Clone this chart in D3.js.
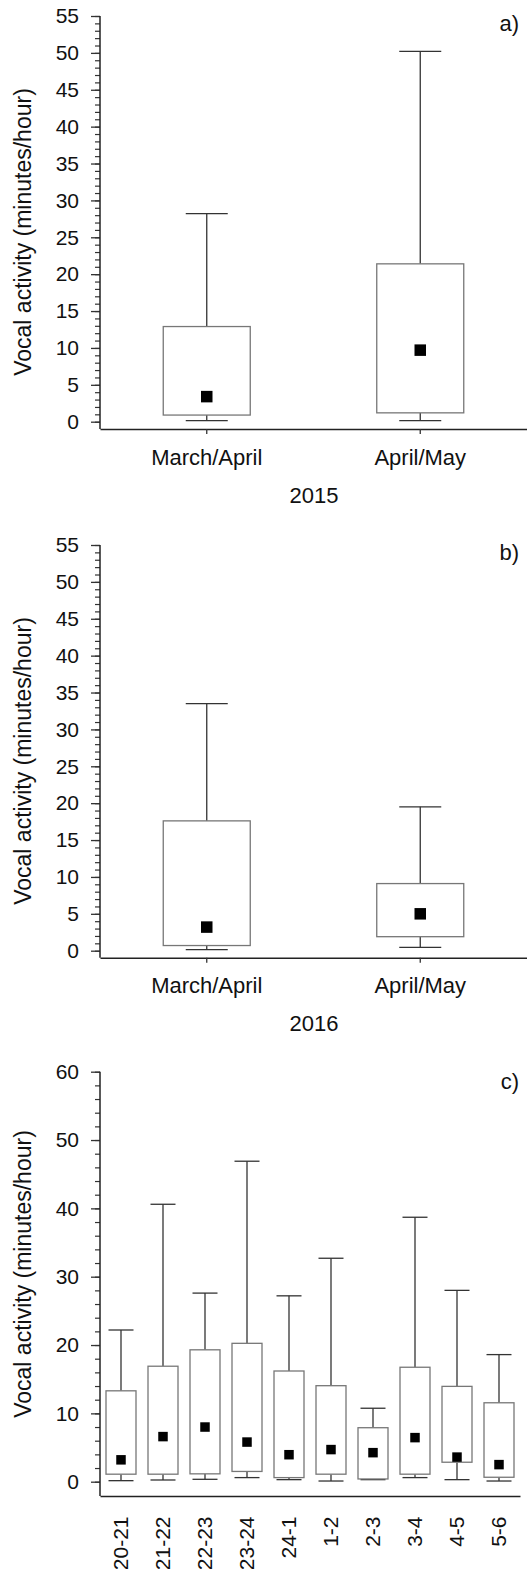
<!DOCTYPE html>
<html>
<head>
<meta charset="utf-8">
<script src="https://cdn.jsdelivr.net/npm/d3@7"></script>
<style>
  body { margin: 0; background: #fff; }
  svg { display: block; font-family: "Liberation Sans", Arial, sans-serif; }
  .axis text { font-size: 21px; fill: #111; }
  .label { font-size: 22px; fill: #111; }
  .ylabel { font-size: 23px; fill: #111; }
</style>
</head>
<body>
<svg id="fig" width="527" height="1569"></svg>
<script>
// seasons (panels a, b)
const periods = ["March/April", "April/May"];
const max2015 = [28.2, 50.2];
const q3_2015 = [12.9, 21.4];
const q1_2015 = [0.9, 1.2];
const min2015 = [0.15, 0.15];
const mean2015 = [3.4, 9.7];

const max2016 = [33.5, 19.5];
const q3_2016 = [17.6, 9.1];
const q1_2016 = [0.7, 1.9];
const min2016 = [0.15, 0.45];
const mean2016 = [3.2, 5.0];

// hours of the night (panel c)
const hours = ["20-21", "21-22", "22-23", "23-24", "24-1", "1-2", "2-3", "3-4", "4-5", "5-6"];
const maxHour = [22.2, 40.6, 27.6, 46.9, 27.2, 32.7, 10.75, 38.7, 28.0, 18.6];
const q3Hour = [13.3, 16.9, 19.3, 20.25, 16.2, 14.05, 7.9, 16.75, 13.95, 11.55];
const q1Hour = [1.1, 1.1, 1.15, 1.5, 0.6, 1.1, 0.4, 1.1, 2.85, 0.65];
const minHour = [0.15, 0.25, 0.35, 0.6, 0.3, 0.1, 0.3, 0.6, 0.3, 0.1];
const meanHour = [3.2, 6.6, 8.0, 5.8, 3.95, 4.7, 4.25, 6.45, 3.6, 2.5];

const ticks55 = [0, 5, 10, 15, 20, 25, 30, 35, 40, 45, 50, 55];
const ticks60 = [0, 10, 20, 30, 40, 50, 60];

const yLabel = "Vocal activity (minutes/hour)";

const svg = d3.select('#fig');

function drawPanel(p) {
  const g = svg.append('g');

  const y = d3.scaleLinear().domain([0, p.yMax]).range([p.zeroY, p.topY]);
  const x = d3.scaleBand().domain(p.cats).range([100, p.right]);
  const cx = (c) => x(c) + x.bandwidth() / 2;

  // minor ticks
  g.append('g')
    .attr('class', 'axis')
    .attr('transform', 'translate(100,0)')
    .call(d3.axisLeft(y).tickValues(d3.range(0, p.yMax + 0.01, p.minor)).tickSize(5).tickFormat(''))
    .call((s) => s.select('.domain').remove())
    .selectAll('line').attr('stroke', '#333').attr('stroke-width', 1.2);

  // major ticks
  g.append('g')
    .attr('class', 'axis')
    .attr('transform', 'translate(100,0)')
    .call(d3.axisLeft(y).tickValues(p.ticks).tickSize(9).tickPadding(12).tickFormat(d3.format('d')))
    .call((s) => s.select('.domain').remove())
    .selectAll('line').attr('stroke', '#333').attr('stroke-width', 1.3);

  // y axis line down to the x axis
  g.append('line')
    .attr('x1', 100).attr('x2', 100)
    .attr('y1', p.topY).attr('y2', p.axisY)
    .attr('stroke', '#222').attr('stroke-width', 1.5);

  // x axis
  const xa = g.append('g')
    .attr('class', 'axis')
    .attr('transform', `translate(0,${p.axisY})`)
    .call(d3.axisBottom(x).tickSize(p.xTicks ? 5 : 0).tickSizeOuter(0).tickPadding(15));
  xa.select('.domain').attr('stroke', '#222').attr('stroke-width', 1.5);
  xa.selectAll('line').attr('stroke', '#333').attr('stroke-width', 1.3);
  xa.selectAll('text').style('font-size', '22px');
  if (p.rotate) {
    xa.selectAll('.tick text')
      .attr('text-anchor', 'end')
      .attr('y', 0).attr('dy', '0.35em')
      .attr('transform', `translate(0,${p.rotY - p.axisY}) rotate(-90)`)
      .attr('x', 0)
      .style('font-size', '21px');
  }

  const rows = p.cats.map((c, i) => ({
    cat: c, max: p.max[i], q3: p.q3[i], q1: p.q1[i], min: p.min[i], mean: p.mean[i]
  }));

  const box = g.selectAll('.boxg').data(rows).enter().append('g');

  // upper whisker
  box.append('line')
    .attr('x1', (d) => cx(d.cat)).attr('x2', (d) => cx(d.cat))
    .attr('y1', (d) => y(d.max)).attr('y2', (d) => y(d.q3))
    .attr('stroke', '#333').attr('stroke-width', 1.3);
  box.append('line')
    .attr('x1', (d) => cx(d.cat) - p.capW / 2).attr('x2', (d) => cx(d.cat) + p.capW / 2)
    .attr('y1', (d) => y(d.max)).attr('y2', (d) => y(d.max))
    .attr('stroke', '#333').attr('stroke-width', 1.3);

  // lower whisker
  box.append('line')
    .attr('x1', (d) => cx(d.cat)).attr('x2', (d) => cx(d.cat))
    .attr('y1', (d) => y(d.q1)).attr('y2', (d) => y(d.min))
    .attr('stroke', '#333').attr('stroke-width', 1.3);
  box.append('line')
    .attr('x1', (d) => cx(d.cat) - p.capW / 2).attr('x2', (d) => cx(d.cat) + p.capW / 2)
    .attr('y1', (d) => y(d.min)).attr('y2', (d) => y(d.min))
    .attr('stroke', '#333').attr('stroke-width', 1.3);

  // box
  box.append('rect')
    .attr('x', (d) => cx(d.cat) - p.boxW / 2)
    .attr('y', (d) => y(d.q3))
    .attr('width', p.boxW)
    .attr('height', (d) => y(d.q1) - y(d.q3))
    .attr('fill', '#fff')
    .attr('stroke', '#777').attr('stroke-width', 1.3);

  // mean marker
  box.append('rect')
    .attr('x', (d) => cx(d.cat) - p.mark / 2)
    .attr('y', (d) => y(d.mean) - p.mark / 2)
    .attr('width', p.mark).attr('height', p.mark)
    .attr('fill', '#000');

  // y label
  svg.append('text')
    .attr('class', 'ylabel')
    .attr('transform', `translate(31,${p.labelY}) rotate(-90)`)
    .attr('text-anchor', 'middle')
    .text(yLabel);

  // panel letter
  svg.append('text')
    .attr('class', 'label')
    .attr('x', 519).attr('y', p.letterY)
    .attr('text-anchor', 'end')
    .text(p.letter);

  if (p.year) {
    svg.append('text')
      .attr('class', 'label')
      .attr('x', 314).attr('y', p.yearY)
      .attr('text-anchor', 'middle')
      .text(p.year);
  }
}

drawPanel({
  cats: periods, max: max2015, q3: q3_2015, q1: q1_2015, min: min2015, mean: mean2015,
  yMax: 55, ticks: ticks55, minor: 1, zeroY: 421.7, topY: 16, axisY: 429, right: 527,
  xTicks: true, boxW: 87, capW: 42, mark: 11.5, labelY: 232, letter: 'a)', letterY: 31,
  year: '2015', yearY: 503
});

drawPanel({
  cats: periods, max: max2016, q3: q3_2016, q1: q1_2016, min: min2016, mean: mean2016,
  yMax: 55, ticks: ticks55, minor: 1, zeroY: 950.7, topY: 545, axisY: 957.7, right: 527,
  xTicks: true, boxW: 87, capW: 42, mark: 11.5, labelY: 761, letter: 'b)', letterY: 560,
  year: '2016', yearY: 1031
});

drawPanel({
  cats: hours, max: maxHour, q3: q3Hour, q1: q1Hour, min: minHour, mean: meanHour,
  yMax: 60, ticks: ticks60, minor: 2, zeroY: 1481.7, topY: 1071.7, axisY: 1496, right: 520,
  xTicks: false, rotate: true, rotY: 1516.5, boxW: 30, capW: 25, mark: 9.5, labelY: 1274,
  letter: 'c)', letterY: 1089
});
</script>
</body>
</html>
